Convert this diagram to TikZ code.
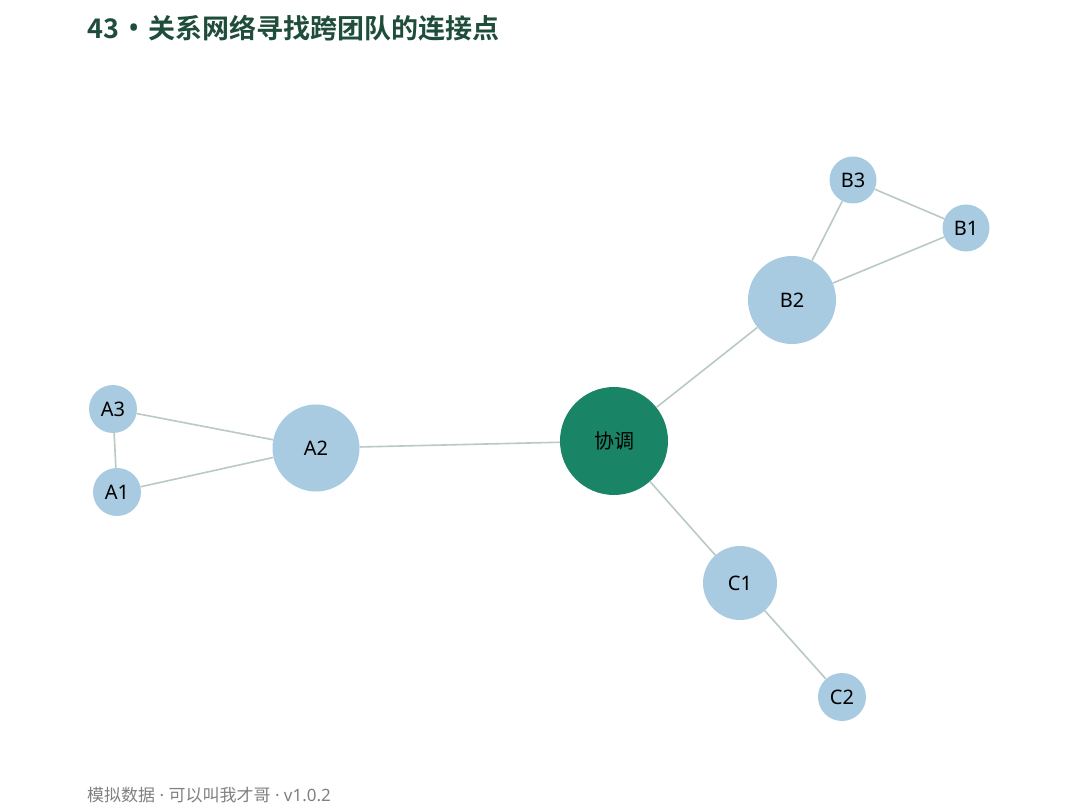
\documentclass[tikz,border=0pt]{standalone}
\usepackage{fontspec}
\usepackage{xcolor}
\setmainfont{Noto Sans CJK SC}
\newfontfamily\titlefont{Noto Sans CJK SC Bold}
\newfontfamily\latinfont{Noto Sans}
\definecolor{titlegreen}{HTML}{1F4D3B}
\definecolor{hubgreen}{HTML}{1A8566}
\definecolor{nodeblue}{HTML}{A9CBE1}
\definecolor{edgegray}{HTML}{B9C9C4}
\definecolor{footgray}{HTML}{808080}
\tikzset{
    member/.style={circle, fill=nodeblue, inner sep=0pt, font=\latinfont\fontsize{20}{22}\selectfont},
    hub/.style={circle, fill=hubgreen, inner sep=0pt, minimum size=108pt, font=\fontsize{20}{22}\selectfont},
    link/.style={edgegray, line width=1.6pt}
}
\begin{document}
\begin{tikzpicture}[x=1pt, y=-1pt]
        \useasboundingbox (0,0) rectangle (1080,810);

        % Draw the title and the footer
        \node[anchor=base west, text=titlegreen, font=\titlefont\fontsize{27}{29}\selectfont, inner sep=0pt] (title) at (87,39) {43\hspace{9pt}{\latinfont\fontsize{30}{30}\selectfont •}\hspace{9pt}关系网络寻找跨团队的连接点};
        \node[anchor=base west, text=footgray, font=\fontsize{17}{19}\selectfont, inner sep=0pt] (footer) at (87,801) {模拟数据{\latinfont\ · }可以叫我才哥{\latinfont\ · v1.0.2}};

        % Draw the nodes
        \node[hub] (hub) at (614,441) {协调};
        \node[member, minimum size=87pt] (A2) at (316,448) {A2};
        \node[member, minimum size=48pt] (A3) at (113,409) {A3};
        \node[member, minimum size=48pt] (A1) at (117,492) {A1};
        \node[member, minimum size=88pt] (B2) at (792,300) {B2};
        \node[member, minimum size=47pt] (B3) at (853,180) {B3};
        \node[member, minimum size=47pt] (B1) at (966,228) {B1};
        \node[member, minimum size=74pt] (C1) at (740,583) {C1};
        \node[member, minimum size=48pt] (C2) at (842,697) {C2};

        % Draw the links
        \foreach \a/\b in {A3/A2, A1/A2, A3/A1, A2/hub, hub/B2, B2/B3, B2/B1, B3/B1, hub/C1, C1/C2}
            \draw[link] (\a) -- (\b);
    \end{tikzpicture}
\end{document}
